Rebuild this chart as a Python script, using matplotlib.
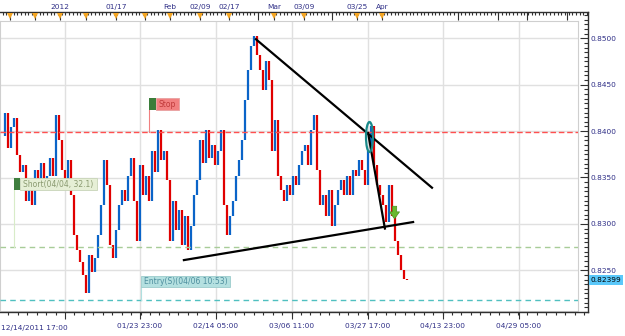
import numpy as np
import matplotlib.pyplot as plt
from matplotlib.patches import Ellipse, Rectangle
from matplotlib.path import Path
from matplotlib.ticker import FixedLocator, MultipleLocator
from matplotlib.transforms import blended_transform_factory

# closing prices, one bar every 3 px on the original chart
closes = [0.8395, 0.8420, 0.8382, 0.8404, 0.8414, 0.8374, 0.8356, 0.8363, 0.8325, 0.8342,
          0.8320, 0.8358, 0.8342, 0.8366, 0.8336, 0.8352, 0.8371, 0.8352, 0.8417, 0.8390,
          0.8358, 0.8336, 0.8369, 0.8331, 0.8288, 0.8272, 0.8259, 0.8245, 0.8226, 0.8266,
          0.8248, 0.8263, 0.8288, 0.8320, 0.8369, 0.8342, 0.8277, 0.8263, 0.8293, 0.8320,
          0.8336, 0.8325, 0.8352, 0.8371, 0.8325, 0.8282, 0.8363, 0.8331, 0.8352, 0.8325,
          0.8379, 0.8356, 0.8401, 0.8369, 0.8379, 0.8347, 0.8282, 0.8325, 0.8293, 0.8315,
          0.8277, 0.8309, 0.8272, 0.8298, 0.8331, 0.8347, 0.8390, 0.8366, 0.8401, 0.8371,
          0.8385, 0.8363, 0.8379, 0.8401, 0.8320, 0.8288, 0.8309, 0.8325, 0.8352, 0.8369,
          0.8390, 0.8433, 0.8466, 0.8492, 0.8502, 0.8482, 0.8466, 0.8444, 0.8476, 0.8455,
          0.8379, 0.8412, 0.8352, 0.8336, 0.8325, 0.8342, 0.8331, 0.8352, 0.8342, 0.8363,
          0.8379, 0.8385, 0.8363, 0.8401, 0.8417, 0.8358, 0.8320, 0.8331, 0.8309, 0.8336,
          0.8298, 0.8320, 0.8336, 0.8347, 0.8331, 0.8352, 0.8331, 0.8358, 0.8352, 0.8369,
          0.8358, 0.8342, 0.8379, 0.8406, 0.8363, 0.8342, 0.8331, 0.8320, 0.8302, 0.8342,
          0.8309, 0.8282, 0.8266, 0.8250, 0.8241, 0.82399]

stop_level = 0.8399
short_level = 0.8275
entry_level = 0.8218

# drawn trendlines (bar index, price)
down_trend_x = [84.8, 143.5]
down_trend_y = [0.8499, 0.8339]
up_trend_x = [60.8, 137.2]
up_trend_y = [0.8261, 0.8302]
drop_x = [122.2, 127.8]
drop_y = [0.8398, 0.8295]

bottom_labels = ["01/23 23:00", "02/14 05:00", "03/06 11:00", "03/27 17:00", "04/13 23:00", "04/29 05:00"]
top_labels = ["2012", "01/17", "Feb", "02/09", "02/17", "Mar", "03/09", "03/25", "Apr"]

W, H = 625, 336
navy = "#2e2e86"
fs = 5.3


def px_x(px):
    return (px - 1.5) / 3.0


def px_p(py):
    return 0.85 + (38.3 - py) / 9280.0


fig = plt.figure(figsize=(W / 100, H / 100), dpi=100)

# main plotting area
ax = fig.add_axes([0, 1 - 311 / H, 577.5 / W, (311 - 20.7) / H])
ax.set_xlim(px_x(0), px_x(577.5))
ax.set_ylim(px_p(311), px_p(20.7))
ax.set_xticks([])
ax.set_yticks([])
for s in ax.spines.values():
    s.set_color("#cfcfcf")

grid_px = [65, 140, 216, 292, 368, 443, 519]
for g in grid_px:
    ax.axvline(px_x(g), color="#e0e0e0", lw=1, zorder=0)
for lvl in np.arange(0.825, 0.8501, 0.005):
    ax.axhline(lvl, color="#e0e0e0", lw=1, zorder=0)

x = np.arange(len(closes))
c = np.array(closes)
o = np.r_[c[0], c[:-1]]
cols = np.where(c < o, "#e00000", "#0a64c8")
ax.vlines(x, o, c, colors=cols, lw=1.6, zorder=2)

ax.axhline(stop_level, color="#ff5050", lw=1, dashes=(4, 2), zorder=3)
ax.axhline(short_level, color="#a8cc98", lw=1, dashes=(4, 3), zorder=3)
ax.axhline(entry_level, color="#50c0c0", lw=1, dashes=(4, 3), zorder=3)

ax.plot(down_trend_x, down_trend_y, color="black", lw=1.6, zorder=4)
ax.plot(up_trend_x, up_trend_y, color="black", lw=1.6, zorder=4)
ax.plot(drop_x, drop_y, color="black", lw=1.6, zorder=4)

ax.add_patch(Ellipse((px_x(369.5), px_p(137)), 7 / 3, 30 / 9280, fill=False,
                     ec="#1a8a8a", lw=1.6, zorder=5))

arrow = Path([(-0.35, 1), (0.35, 1), (0.35, 0.1), (0.8, 0.1), (0, -1),
              (-0.8, 0.1), (-0.35, 0.1), (-0.35, 1)], closed=True)
ax.plot(px_x(394), px_p(212), marker=arrow, ms=9, color="#6ab82e", mec="#4a9020",
        mew=0.5, zorder=6)


def tag(x0, x1, x2, y0, y1, text, sq, bg, tc, edge, line_to, line_col):
    # small label box with coloured square and a leader line down to its level
    ax.plot([px_x(x0), px_x(x0)], [px_p(y1), px_p(line_to)], color=line_col, lw=0.8, zorder=6)
    if sq:
        ax.add_patch(Rectangle((px_x(x0), px_p(y1)), px_x(x1) - px_x(x0), px_p(y0) - px_p(y1),
                               fc=sq, ec="none", zorder=7))
    ax.add_patch(Rectangle((px_x(x1), px_p(y1)), px_x(x2) - px_x(x1), px_p(y0) - px_p(y1),
                           fc=bg, ec=edge, lw=0.6, zorder=7))
    ax.text(px_x((x1 + x2) / 2), px_p((y0 + y1) / 2), text, ha="center", va="center",
            fontsize=fs + 0.2, color=tc, zorder=8)


tag(149, 156, 179, 98, 110, "Stop", "#3a7d3a", "#f28080", "#c03a3a", "#e8a0a0", 132, "#f08080")
tag(14, 20, 97, 178, 190, "Short(04/04, 32.1)", "#3f7f3f", "#e6efd6", "#8a9a70", "#c8d4b8",
    247, "#d8ecc8")
tag(141, 141, 230, 276, 287, "Entry(S)(04/06 10:53)", None, "#b4e0e0", "#4f8f9f", "#9ccccc",
    300, "#b0e0e0")

# outer frame with the time axes and the price scale
axF = fig.add_axes([0, 1 - 312.3 / H, 588.3 / W, 300 / H], facecolor="none")
axF.set_xlim(px_x(0), px_x(588.3))
axF.set_ylim(px_p(312.3), px_p(12.3))
axF.spines["left"].set_visible(False)
for k in ["top", "bottom", "right"]:
    axF.spines[k].set_color("#303030")
    axF.spines[k].set_linewidth(1)

axF.yaxis.tick_right()
axF.yaxis.set_major_locator(MultipleLocator(0.005))
axF.yaxis.set_minor_locator(MultipleLocator(0.0005))
axF.yaxis.set_major_formatter(lambda v, p: f"{v:.4f}")
axF.tick_params(axis="y", which="major", direction="in", length=6, width=0.8, pad=1.5,
                labelsize=fs, labelcolor=navy, color="#303030")
axF.tick_params(axis="y", which="minor", direction="in", length=3, width=0.8, color="#303030")

major_b = [px_x(p) for p in grid_px]
axF.xaxis.set_major_locator(FixedLocator(major_b))
axF.set_xticklabels([""] + bottom_labels)
axF.xaxis.set_minor_locator(FixedLocator([px_x(p) for p in np.arange(65 - 8 * 9.4375, 588, 9.4375)]))
axF.tick_params(axis="x", which="major", direction="out", length=5, width=0.8, pad=3,
                labelsize=fs, labelcolor=navy, color="#303030")
axF.tick_params(axis="x", which="minor", direction="out", length=2, width=0.8, color="#303030")
fig.text(1 / W, 1 - 328 / H, "12/14/2011 17:00", fontsize=fs, color=navy, va="center", ha="left")

axT = axF.twiny()
axT.set_xlim(axF.get_xlim())
for k in ["top", "bottom", "left", "right"]:
    axT.spines[k].set_visible(False)
top_major_px = [10, 35, 60, 86, 116, 145, 170, 200, 229, 258, 274, 304, 332, 357, 382, 458, 498, 527, 567]
top_lab_px = [60, 116, 170, 200, 229, 274, 304, 357, 382]
axT.xaxis.set_major_locator(FixedLocator([px_x(p) for p in top_major_px]))
lab_map = dict(zip(top_lab_px, top_labels))
axT.set_xticklabels([lab_map.get(p, "") for p in top_major_px])
axT.xaxis.set_minor_locator(FixedLocator([px_x(p) for p in np.arange(2.5, 588, 3.7)]))
axT.tick_params(axis="x", which="major", direction="in", length=6, width=0.8, pad=1.5,
                labelsize=fs, labelcolor=navy, color="#303030")
axT.tick_params(axis="x", which="minor", direction="in", length=2.5, width=0.8, color="#303030")

orange_px = [10, 35, 60, 86, 116, 145, 170, 200, 229, 274, 304, 357, 382]
tr = blended_transform_factory(axT.transData, axT.transAxes)
axT.plot([px_x(p) for p in orange_px], [1 - 3.5 / 300] * len(orange_px), "v", color="#f5a623",
         ms=4.5, mew=0, transform=tr, clip_on=False, zorder=5)

# last price marker on the price scale
axF.text(1.004, closes[-1], f"{closes[-1]:.5f}", transform=axF.get_yaxis_transform(),
         ha="left", va="center", fontsize=fs, color="black",
         bbox=dict(boxstyle="square,pad=0.25", fc="#5ac8fa", ec="none"))

fig.savefig("out.png", dpi=100)
